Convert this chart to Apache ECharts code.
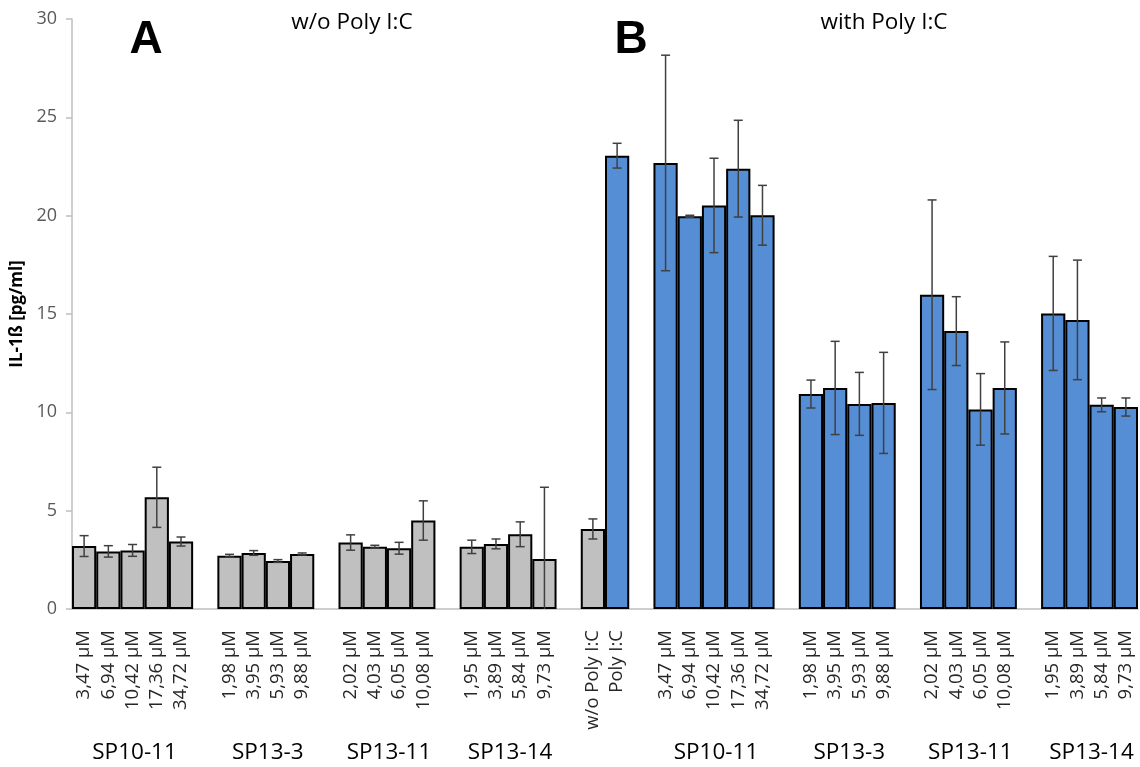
<!DOCTYPE html>
<html>
<head>
<meta charset="utf-8">
<script src="https://cdn.jsdelivr.net/npm/echarts@6/dist/echarts.min.js"></script>
<style>
  html, body { margin: 0; padding: 0; background: #fff; }
  #chart { width: 1140px; height: 767px; }
</style>
</head>
<body>
<div id="chart"></div>
<script>
// Concentration labels per compound
const concSP1011 = ['3,47 µM', '6,94 µM', '10,42 µM', '17,36 µM', '34,72 µM'];
const concSP133 = ['1,98 µM', '3,95 µM', '5,93 µM', '9,88 µM'];
const concSP1311 = ['2,02 µM', '4,03 µM', '6,05 µM', '10,08 µM'];
const concSP1314 = ['1,95 µM', '3,89 µM', '5,84 µM', '9,73 µM'];
const controlLabels = ['w/o Poly I:C', 'Poly I:C'];
const groupNames = ['SP10-11', 'SP13-3', 'SP13-11', 'SP13-14'];

// IL-1ß means and SD (pg/ml) without Poly I:C
const meanA_SP1011 = [3.20, 2.93, 2.98, 5.68, 3.43];
const errA_SP1011 = [0.53, 0.29, 0.30, 1.53, 0.23];
const meanA_SP133 = [2.71, 2.85, 2.44, 2.80];
const errA_SP133 = [0.07, 0.12, 0.07, 0.05];
const meanA_SP1311 = [3.38, 3.17, 3.09, 4.50];
const errA_SP1311 = [0.39, 0.07, 0.30, 1.00];
const meanA_SP1314 = [3.16, 3.31, 3.80, 2.54];
const errA_SP1314 = [0.34, 0.25, 0.63, 3.65];

// Controls
const meanControl = [4.07, 23.05];
const errControl = [0.51, 0.63];

// IL-1ß means and SD (pg/ml) with Poly I:C
const meanB_SP1011 = [22.68, 19.97, 20.52, 22.39, 20.02];
const errB_SP1011 = [5.48, 0.05, 2.40, 2.46, 1.52];
const meanB_SP133 = [10.93, 11.24, 10.43, 10.48];
const errB_SP133 = [0.71, 2.37, 1.60, 2.57];
const meanB_SP1311 = [15.98, 14.13, 10.15, 11.24];
const errB_SP1311 = [4.82, 1.75, 1.82, 2.34];
const meanB_SP1314 = [15.03, 14.70, 10.38, 10.27];
const errB_SP1314 = [2.90, 3.04, 0.35, 0.46];

const yTicks = [0, 5, 10, 15, 20, 25, 30];

const GRAY = '#C0C0C0';
const BLUE = '#558ED5';

// Segments in drawing order, separated by an empty slot
const segments = [
  { labels: concSP1011, mean: meanA_SP1011, err: errA_SP1011, colors: [GRAY], group: groupNames[0] },
  { labels: concSP133, mean: meanA_SP133, err: errA_SP133, colors: [GRAY], group: groupNames[1] },
  { labels: concSP1311, mean: meanA_SP1311, err: errA_SP1311, colors: [GRAY], group: groupNames[2] },
  { labels: concSP1314, mean: meanA_SP1314, err: errA_SP1314, colors: [GRAY], group: groupNames[3] },
  { labels: controlLabels, mean: meanControl, err: errControl, colors: [GRAY, BLUE], group: null },
  { labels: concSP1011, mean: meanB_SP1011, err: errB_SP1011, colors: [BLUE], group: groupNames[0] },
  { labels: concSP133, mean: meanB_SP133, err: errB_SP133, colors: [BLUE], group: groupNames[1] },
  { labels: concSP1311, mean: meanB_SP1311, err: errB_SP1311, colors: [BLUE], group: groupNames[2] },
  { labels: concSP1314, mean: meanB_SP1314, err: errB_SP1314, colors: [BLUE], group: groupNames[3] }
];

const categories = [];
const barData = [];
const errData = [];
const groupSpans = [];
segments.forEach((seg, si) => {
  if (si > 0) { categories.push(''); barData.push('-'); }
  const start = categories.length;
  seg.labels.forEach((lab, i) => {
    const idx = categories.length;
    categories.push(lab);
    const color = seg.colors[Math.min(i, seg.colors.length - 1)];
    barData.push({ value: seg.mean[i], itemStyle: { color: color } });
    errData.push([idx, Math.max(0, seg.mean[i] - seg.err[i]), seg.mean[i] + seg.err[i]]);
  });
  if (seg.group) groupSpans.push({ name: seg.group, first: start, last: categories.length - 1 });
});

const FONT = '"Open Sans", "Noto Sans", sans-serif';

const chart = echarts.init(document.getElementById('chart'), null, { renderer: 'canvas' });

chart.setOption({
  animation: false,
  backgroundColor: '#ffffff',
  grid: { left: 72, right: 2, top: 19, bottom: 158, containLabel: false },
  xAxis: {
    type: 'category',
    data: categories,
    boundaryGap: true,
    axisLine: { show: true, lineStyle: { color: '#BFBFBF', width: 1.5 } },
    axisTick: { show: false },
    axisLabel: {
      interval: 0, rotate: 90, margin: 21,
      fontFamily: FONT, fontSize: 18.5, color: '#262626'
    },
    splitLine: { show: false }
  },
  yAxis: {
    type: 'value',
    min: yTicks[0], max: yTicks[yTicks.length - 1], interval: 5,
    name: 'IL-1ß [pg/ml]',
    nameLocation: 'middle',
    nameGap: 44,
    nameRotate: 90,
    nameTextStyle: { fontFamily: FONT, fontSize: 17, fontWeight: 'bold', color: '#000' },
    axisLine: { show: true, lineStyle: { color: '#BFBFBF', width: 1.5 } },
    axisTick: { show: true, length: 6, lineStyle: { color: '#BFBFBF', width: 1.5 } },
    axisLabel: { fontFamily: FONT, fontSize: 18, color: '#595959', margin: 15 },
    splitLine: { show: false }
  },
  series: [
    {
      type: 'bar',
      data: barData,
      barCategoryGap: '0%',
      itemStyle: { borderColor: '#000', borderWidth: 2 },
      z: 2
    },
    {
      type: 'custom',
      data: errData,
      encode: { x: 0, y: [1, 2] },
      z: 3,
      renderItem: function (params, api) {
        const x = api.value(0);
        const lo = api.value(1);
        const hi = api.value(2);
        const pHi = api.coord([x, hi]);
        const pLo = api.coord([x, lo]);
        const half = 4.5;
        const style = { stroke: '#404040', lineWidth: 1.5 };
        const children = [
          { type: 'line', shape: { x1: pHi[0], y1: pHi[1], x2: pLo[0], y2: pLo[1] }, style: style },
          { type: 'line', shape: { x1: pHi[0] - half, y1: pHi[1], x2: pHi[0] + half, y2: pHi[1] }, style: style }
        ];
        if (lo > 0) {
          children.push({ type: 'line', shape: { x1: pLo[0] - half, y1: pLo[1], x2: pLo[0] + half, y2: pLo[1] }, style: style });
        }
        return { type: 'group', children: children };
      }
    }
  ]
});

// Compound names under each block and panel headings
const graphics = [];
groupSpans.forEach(g => {
  const a = chart.convertToPixel({ xAxisIndex: 0 }, g.first);
  const b = chart.convertToPixel({ xAxisIndex: 0 }, g.last);
  graphics.push({
    type: 'text', x: (a + b) / 2 + 2, y: 753,
    style: { text: g.name, fontFamily: FONT, fontSize: 22.5, fill: '#000', align: 'center', verticalAlign: 'middle' }
  });
});
graphics.push(
  { type: 'text', x: 146, y: 40, style: { text: 'A', fontFamily: '"Liberation Sans", Arial, sans-serif', fontWeight: 'bold', fontSize: 46, fill: '#000', align: 'center', verticalAlign: 'middle' } },
  { type: 'text', x: 352, y: 23, style: { text: 'w/o Poly I:C', fontFamily: FONT, fontSize: 22.5, fill: '#000', align: 'center', verticalAlign: 'middle' } },
  { type: 'text', x: 631, y: 40, style: { text: 'B', fontFamily: '"Liberation Sans", Arial, sans-serif', fontWeight: 'bold', fontSize: 46, fill: '#000', align: 'center', verticalAlign: 'middle' } },
  { type: 'text', x: 884, y: 23, style: { text: 'with Poly I:C', fontFamily: FONT, fontSize: 22.5, fill: '#000', align: 'center', verticalAlign: 'middle' } }
);
chart.setOption({ graphic: graphics });
</script>
</body>
</html>
